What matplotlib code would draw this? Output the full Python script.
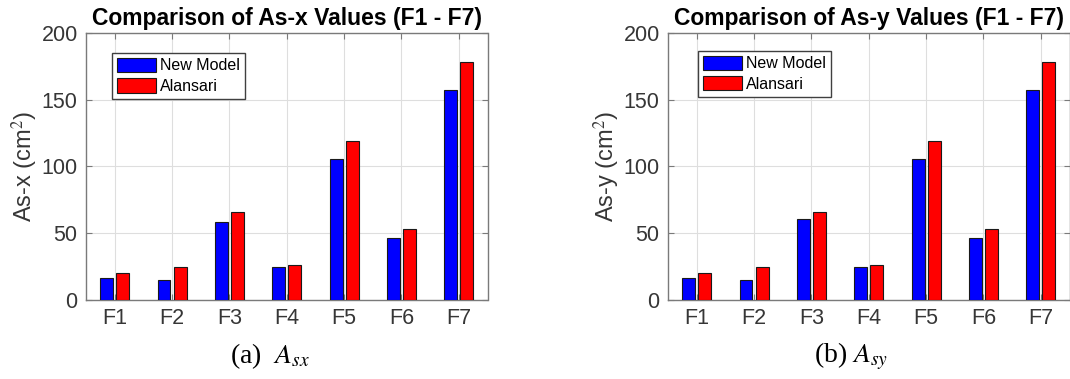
import matplotlib
matplotlib.use("Agg")
import matplotlib.pyplot as plt
import numpy as np

categories = ["F1", "F2", "F3", "F4", "F5", "F6", "F7"]
asx_new_model = [16.5, 15.2, 58.7, 24.7, 105.5, 46.5, 157.2]
asx_alansari = [20.5, 25.0, 65.7, 26.2, 119.2, 53.5, 178.6]
asy_new_model = [16.5, 15.2, 60.5, 24.7, 105.5, 46.5, 157.2]
asy_alansari = [20.5, 25.0, 65.7, 26.2, 119.2, 53.5, 178.6]
series_labels = ["New Model", "Alansari"]
yticks = [0, 50, 100, 150, 200]

plt.rcParams['font.family'] = ['Liberation Sans', 'DejaVu Sans']
plt.rcParams['mathtext.fontset'] = 'stix'

W, H = 1070, 379
fig = plt.figure(figsize=(W / 100, H / 100), dpi=100)

spine_col = '#7a7a7a'
tick_col = '#363636'


def make_panel(rect, new_vals, old_vals, title, ylabel, leg_xy):
    ax = fig.add_axes(rect)
    x = np.arange(1, len(categories) + 1)
    bw = 0.226
    off = 0.14
    ax.bar(x - off, new_vals, bw, color='#0000ff', edgecolor='#1a1a1a',
           linewidth=0.8, label=series_labels[0], zorder=3)
    ax.bar(x + off, old_vals, bw, color='#ff0000', edgecolor='#1a1a1a',
           linewidth=0.8, label=series_labels[1], zorder=3)
    ax.set_xlim(0.5, 7.5)
    ax.set_ylim(0, 200)
    ax.set_xticks(x)
    ax.set_xticklabels(categories)
    ax.set_yticks(yticks)
    ax.grid(True, color='#dedede', linewidth=0.8, zorder=0)
    ax.set_axisbelow(True)
    for s in ax.spines.values():
        s.set_color(spine_col)
        s.set_linewidth(1.0)
    ax.tick_params(direction='in', top=True, right=True, length=4,
                   color=spine_col, labelcolor=tick_col, labelsize=15.5, pad=6)
    ax.set_title(title, fontsize=16.5, fontweight='bold', pad=6)
    ax.set_ylabel(ylabel, fontsize=17, color=tick_col, labelpad=1)
    leg = ax.legend(loc='upper left', bbox_to_anchor=leg_xy, fontsize=11.5,
                    fancybox=False, framealpha=1, edgecolor='#404040',
                    handlelength=2.45, handleheight=1.0, handletextpad=0.25,
                    labelspacing=0.3, borderpad=0.3, borderaxespad=0)
    leg.get_frame().set_linewidth(1.0)
    return ax


axw = 401.5 / W
axh = 267 / H
bottom = 1 - 300 / H
make_panel([86 / W, bottom, axw, axh], asx_new_model, asx_alansari,
           "Comparison of As-x Values (F1 - F7)", r"As-x (cm$^2$)", (0.065, 0.925))
make_panel([668 / W, bottom, axw, axh], asy_new_model, asy_alansari,
           "Comparison of As-y Values (F1 - F7)", r"As-y (cm$^2$)", (0.075, 0.933))

fig.text(270 / W, 1 - 356 / H, r"(a)  $A_{sx}$", ha='center', va='center',
         fontsize=20, family='Liberation Serif')
fig.text(851 / W, 1 - 356 / H, r"(b) $A_{sy}$", ha='center', va='center',
         fontsize=20, family='Liberation Serif')

fig.savefig("out.png", dpi=100)
